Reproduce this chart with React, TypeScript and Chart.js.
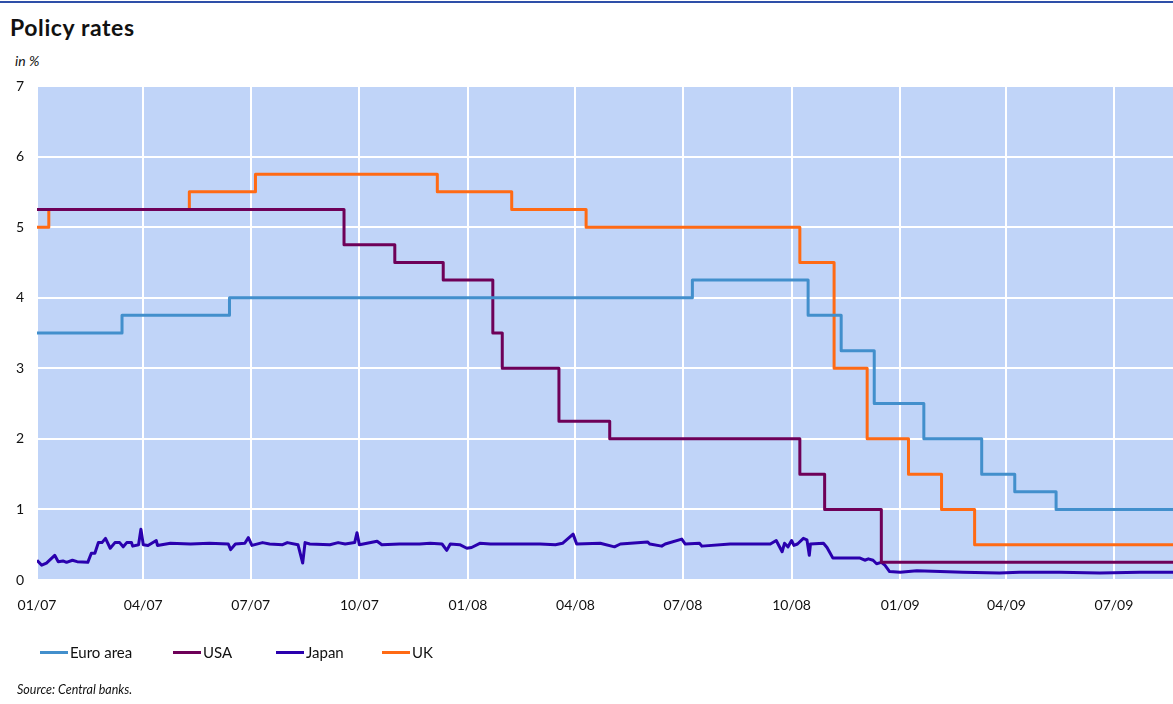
import React, { useEffect, useRef } from "react";
import { Chart, registerables } from "chart.js";

Chart.register(...registerables);

// ---- Data ----
const START = "2007-01-01";
const END = "2009-08-20";

const tickDates = [
  "2007-01-01", "2007-04-01", "2007-07-01", "2007-10-01",
  "2008-01-01", "2008-04-01", "2008-07-01", "2008-10-01",
  "2009-01-01", "2009-04-01", "2009-07-01",
];
const tickLabels = ["01/07", "04/07", "07/07", "10/07", "01/08", "04/08", "07/08", "10/08", "01/09", "04/09", "07/09"];

const euroDates = ["2007-01-01", "2007-03-14", "2007-06-13", "2008-07-09", "2008-10-15", "2008-11-12", "2008-12-10", "2009-01-21", "2009-03-11", "2009-04-08", "2009-05-13", END];
const euroValues = [3.5, 3.75, 4.0, 4.25, 3.75, 3.25, 2.5, 2.0, 1.5, 1.25, 1.0, 1.0];

const usaDates = ["2007-01-01", "2007-09-18", "2007-10-31", "2007-12-11", "2008-01-22", "2008-01-30", "2008-03-18", "2008-04-30", "2008-10-08", "2008-10-29", "2008-12-16", END];
const usaValues = [5.25, 4.75, 4.5, 4.25, 3.5, 3.0, 2.25, 2.0, 1.5, 1.0, 0.25, 0.25];

const ukDates = ["2007-01-01", "2007-01-11", "2007-05-10", "2007-07-05", "2007-12-06", "2008-02-07", "2008-04-10", "2008-10-08", "2008-11-06", "2008-12-04", "2009-01-08", "2009-02-05", "2009-03-05", END];
const ukValues = [5.0, 5.25, 5.5, 5.75, 5.5, 5.25, 5.0, 4.5, 3.0, 2.0, 1.5, 1.0, 0.5, 0.5];

const japanDates = [
  "2007-01-01", "2007-01-05", "2007-01-09", "2007-01-16", "2007-01-19", "2007-01-23", "2007-01-26", "2007-01-31",
  "2007-02-04", "2007-02-13", "2007-02-16", "2007-02-19", "2007-02-22", "2007-02-25", "2007-02-28", "2007-03-04",
  "2007-03-08", "2007-03-12", "2007-03-15", "2007-03-18", "2007-03-22", "2007-03-23", "2007-03-28", "2007-03-30",
  "2007-04-01", "2007-04-05", "2007-04-12", "2007-04-13", "2007-04-24", "2007-05-11", "2007-05-27", "2007-06-12",
  "2007-06-14", "2007-06-18", "2007-06-26", "2007-06-29", "2007-07-02", "2007-07-11", "2007-07-17", "2007-07-28",
  "2007-08-01", "2007-08-10", "2007-08-14", "2007-08-16", "2007-08-20", "2007-09-06", "2007-09-13", "2007-09-19",
  "2007-09-27", "2007-09-29", "2007-10-01", "2007-10-16", "2007-10-20", "2007-11-04", "2007-11-21", "2007-11-30",
  "2007-12-10", "2007-12-14", "2007-12-17", "2007-12-25", "2007-12-31", "2008-01-04", "2008-01-11", "2008-01-20",
  "2008-02-05", "2008-03-02", "2008-03-15", "2008-03-21", "2008-03-30", "2008-04-02", "2008-04-22", "2008-05-04",
  "2008-05-09", "2008-06-01", "2008-06-03", "2008-06-13", "2008-06-16", "2008-06-30", "2008-07-03", "2008-07-15",
  "2008-07-17", "2008-08-10", "2008-09-04", "2008-09-13", "2008-09-18", "2008-09-23", "2008-09-25", "2008-09-28",
  "2008-10-01", "2008-10-03", "2008-10-06", "2008-10-11", "2008-10-14", "2008-10-16", "2008-10-17", "2008-10-28",
  "2008-10-31", "2008-11-02", "2008-11-05", "2008-11-28", "2008-12-02", "2008-12-05", "2008-12-09", "2008-12-12",
  "2008-12-16", "2008-12-19", "2008-12-23", "2009-01-01", "2009-01-15", "2009-02-04", "2009-02-23", "2009-03-26",
  "2009-04-12", "2009-05-16", "2009-06-19", "2009-07-23", "2009-08-20",
];
const japanValues = [
  0.28, 0.21, 0.24, 0.35, 0.26, 0.27, 0.25, 0.28,
  0.26, 0.25, 0.38, 0.38, 0.53, 0.53, 0.59, 0.45,
  0.53, 0.53, 0.47, 0.53, 0.53, 0.48, 0.50, 0.72,
  0.50, 0.49, 0.56, 0.49, 0.52, 0.51, 0.52, 0.51,
  0.43, 0.51, 0.52, 0.60, 0.49, 0.53, 0.51, 0.50,
  0.53, 0.50, 0.24, 0.53, 0.51, 0.50, 0.53, 0.51,
  0.53, 0.67, 0.50, 0.55, 0.50, 0.51, 0.51, 0.52,
  0.51, 0.42, 0.51, 0.50, 0.45, 0.46, 0.52, 0.51,
  0.51, 0.51, 0.50, 0.52, 0.65, 0.51, 0.52, 0.47,
  0.51, 0.54, 0.51, 0.48, 0.51, 0.58, 0.51, 0.52,
  0.48, 0.51, 0.51, 0.51, 0.56, 0.40, 0.52, 0.47,
  0.56, 0.49, 0.51, 0.59, 0.57, 0.35, 0.51, 0.52,
  0.46, 0.40, 0.31, 0.31, 0.28, 0.30, 0.28, 0.23,
  0.25, 0.21, 0.12, 0.11, 0.13, 0.12, 0.11, 0.10,
  0.11, 0.11, 0.10, 0.11, 0.11,
];

const seriesNames = ["Euro area", "USA", "Japan", "UK"];
const seriesColors = ["#428FCC", "#6E0058", "#2A00AE", "#FF6A14"];

// ---- helpers ----
const toDay = (s: string) =>
  (Date.UTC(+s.slice(0, 4), +s.slice(5, 7) - 1, +s.slice(8, 10)) -
    Date.UTC(+START.slice(0, 4), +START.slice(5, 7) - 1, +START.slice(8, 10))) /
  86400000;

const pts = (dates: string[], vals: number[]) => dates.map((d, i) => ({ x: toDay(d), y: vals[i] }));

const FONT = "Lato, 'Open Sans', sans-serif";

const bgPlugin = {
  id: "plotBg",
  beforeDraw(chart: any) {
    const { ctx, chartArea } = chart;
    if (!chartArea) return;
    ctx.save();
    ctx.fillStyle = "#C0D4F8";
    ctx.fillRect(chartArea.left, chartArea.top, chartArea.right - chartArea.left, chartArea.bottom - chartArea.top);
    ctx.restore();
  },
};

export default function App() {
  const ref = useRef<HTMLCanvasElement | null>(null);

  useEffect(() => {
    if (!ref.current) return;
    const common = { pointRadius: 0, borderWidth: 3, tension: 0, fill: false, borderJoinStyle: "round" as any };
    const chart = new Chart(ref.current, {
      type: "line",
      data: {
        datasets: [
          { ...common, label: seriesNames[0], data: pts(euroDates, euroValues), borderColor: seriesColors[0], stepped: "before" as any },
          { ...common, label: seriesNames[1], data: pts(usaDates, usaValues), borderColor: seriesColors[1], stepped: "before" as any },
          { ...common, label: seriesNames[2], data: pts(japanDates, japanValues), borderColor: seriesColors[2], borderWidth: 3 },
          { ...common, label: seriesNames[3], data: pts(ukDates, ukValues), borderColor: seriesColors[3], stepped: "before" as any },
        ],
      },
      options: {
        animation: false,
        responsive: false,
        maintainAspectRatio: false,
        layout: { padding: { top: 86, bottom: 84, left: 0, right: 0 } },
        plugins: { legend: { display: false }, tooltip: { enabled: false } },
        scales: {
          x: {
            type: "linear",
            min: 0,
            max: toDay(END),
            afterBuildTicks: (scale: any) => {
              scale.ticks = tickDates.map((d) => ({ value: toDay(d) }));
            },
            afterFit: (scale: any) => {
              scale.height = 40;
            },
            ticks: {
              autoSkip: false,
              maxRotation: 0,
              minRotation: 0,
              padding: 17,
              color: "#111",
              font: { family: FONT, size: 14 },
              callback: (_v: any, i: number) => tickLabels[i],
            },
            grid: { color: "#FFFFFF", lineWidth: 2, drawTicks: false },
            border: { display: false },
          },
          y: {
            min: 0,
            max: 7,
            afterFit: (scale: any) => {
              scale.width = 37;
            },
            ticks: {
              stepSize: 1,
              padding: 13,
              color: "#111",
              font: { family: FONT, size: 14 },
            },
            grid: { color: "#FFFFFF", lineWidth: 2, drawTicks: false },
            border: { display: false },
          },
        },
      },
      plugins: [bgPlugin],
    } as any);
    return () => chart.destroy();
  }, []);

  const legendX = [40, 173, 276, 382];

  return (
    <div style={{ position: "absolute", left: 0, top: 0, width: 1173, height: 704, background: "#fff", overflow: "hidden", fontFamily: FONT, color: "#111" }}>
      <div style={{ position: "absolute", left: 0, top: 1, width: 1173, height: 2, background: "#2E4FA8" }} />
      <div style={{ position: "absolute", left: 10, top: 13, fontSize: 23, fontWeight: 700, lineHeight: "28px", letterSpacing: 0.6 }}>Policy rates</div>
      <div style={{ position: "absolute", left: 15, top: 53, fontSize: 14, fontStyle: "italic", lineHeight: "16px" }}>in %</div>
      <canvas ref={ref} width={1173} height={704} style={{ position: "absolute", left: 0, top: 0, width: 1173, height: 704 }} />
      {seriesNames.map((n, i) => (
        <div key={n} style={{ position: "absolute", left: legendX[i], top: 643, height: 18, display: "flex", alignItems: "center", fontSize: 15 }}>
          <span style={{ display: "inline-block", width: 28, height: 3, background: seriesColors[i], marginRight: 2 }} />
          <span>{n}</span>
        </div>
      ))}
      <div style={{ position: "absolute", left: 17, top: 682, fontSize: 12.5, fontStyle: "italic", lineHeight: "16px" }}>Source: Central banks.</div>
    </div>
  );
}
